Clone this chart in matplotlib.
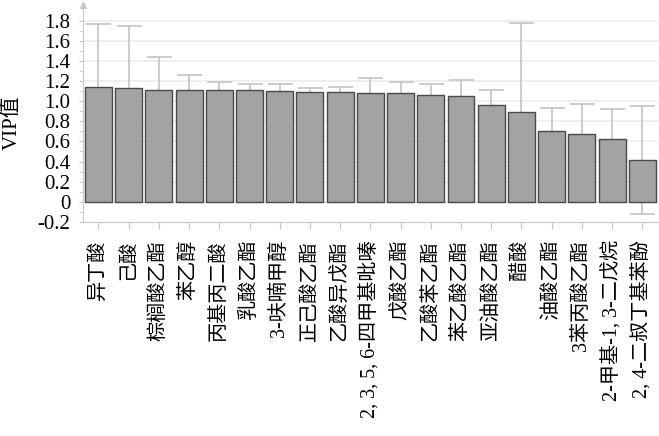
import matplotlib
matplotlib.use("Agg")
import matplotlib.pyplot as plt
import numpy as np

compounds = [
    "异丁酸", "己酸", "棕榈酸乙酯", "苯乙醇", "丙基丙二酸", "乳酸乙酯",
    "3-呋喃甲醇", "正己酸乙酯", "乙酸异戊酯", "2, 3, 5, 6-四甲基吡嗪",
    "戊酸乙酯", "乙酸苯乙酯", "苯乙酸乙酯", "亚油酸乙酯", "醋酸",
    "油酸乙酯", "3苯丙酸乙酯", "2-甲基-1, 3-二戊烷", "2, 4-二叔丁基苯酚",
]
vip = [1.137, 1.130, 1.113, 1.110, 1.110, 1.107, 1.097, 1.090, 1.087, 1.077,
       1.077, 1.060, 1.054, 0.958, 0.888, 0.706, 0.673, 0.623, 0.418]
err = [0.626, 0.616, 0.328, 0.152, 0.077, 0.066, 0.073, 0.043, 0.050, 0.153,
       0.110, 0.113, 0.159, 0.152, 0.888, 0.222, 0.298, 0.301, 0.535]
y_ticks = [-0.2, 0, 0.2, 0.4, 0.6, 0.8, 1.0, 1.2, 1.4, 1.6, 1.8]
y_tick_labels = ["-0.2", "0", "0.2", "0.4", "0.6", "0.8", "1.0", "1.2", "1.4", "1.6", "1.8"]

plt.rcParams["font.family"] = ["Liberation Serif", "Noto Sans CJK SC", "DejaVu Sans"]
plt.rcParams["axes.unicode_minus"] = False

fig = plt.figure(figsize=(6.59, 4.36), dpi=100)
ax = fig.add_axes([0.126, 0.491, 0.872, 0.4975])

x = np.arange(len(compounds))
ax.errorbar(x, vip, yerr=err, fmt="none", ecolor="#c4c4c4", elinewidth=1.2,
            capsize=9, capthick=1.2, zorder=2)
ax.bar(x, vip, width=0.89, color="#a3a3a3", edgecolor="#4a4a4a", linewidth=1.0, zorder=3)

ax.set_xlim(-0.51, 18.51)
ax.set_ylim(-0.2, 1.955)
ax.set_yticks(y_ticks)
ax.set_yticklabels(y_tick_labels, fontsize=15)
ax.set_yticks(np.arange(-0.1, 1.9, 0.2), minor=True)
ax.set_xticks(x)
ax.set_xticklabels(compounds, rotation=90, fontsize=14.5, ha="center", va="top")

for v in y_ticks[1:]:
    ax.axhline(v, color="#ececec", linewidth=1.2, zorder=1)
ax.axhline(0, color="#d8d8d8", linewidth=1.0, zorder=1)

for side in ["top", "right"]:
    ax.spines[side].set_visible(False)
ax.spines["left"].set_color("#c8c8c8")
ax.spines["bottom"].set_color("#c8c8c8")
ax.tick_params(axis="y", which="both", color="#c8c8c8", length=3, pad=6)
ax.tick_params(axis="x", color="#c8c8c8", length=5, pad=8)
ax.plot([-0.51], [1.955], marker="^", color="#c8c8c8", markersize=4,
        clip_on=False, zorder=4)

ax.set_ylabel("VIP值", fontsize=15)
ax.yaxis.set_label_coords(-0.107, 0.456)

fig.savefig("out.png", dpi=100)
